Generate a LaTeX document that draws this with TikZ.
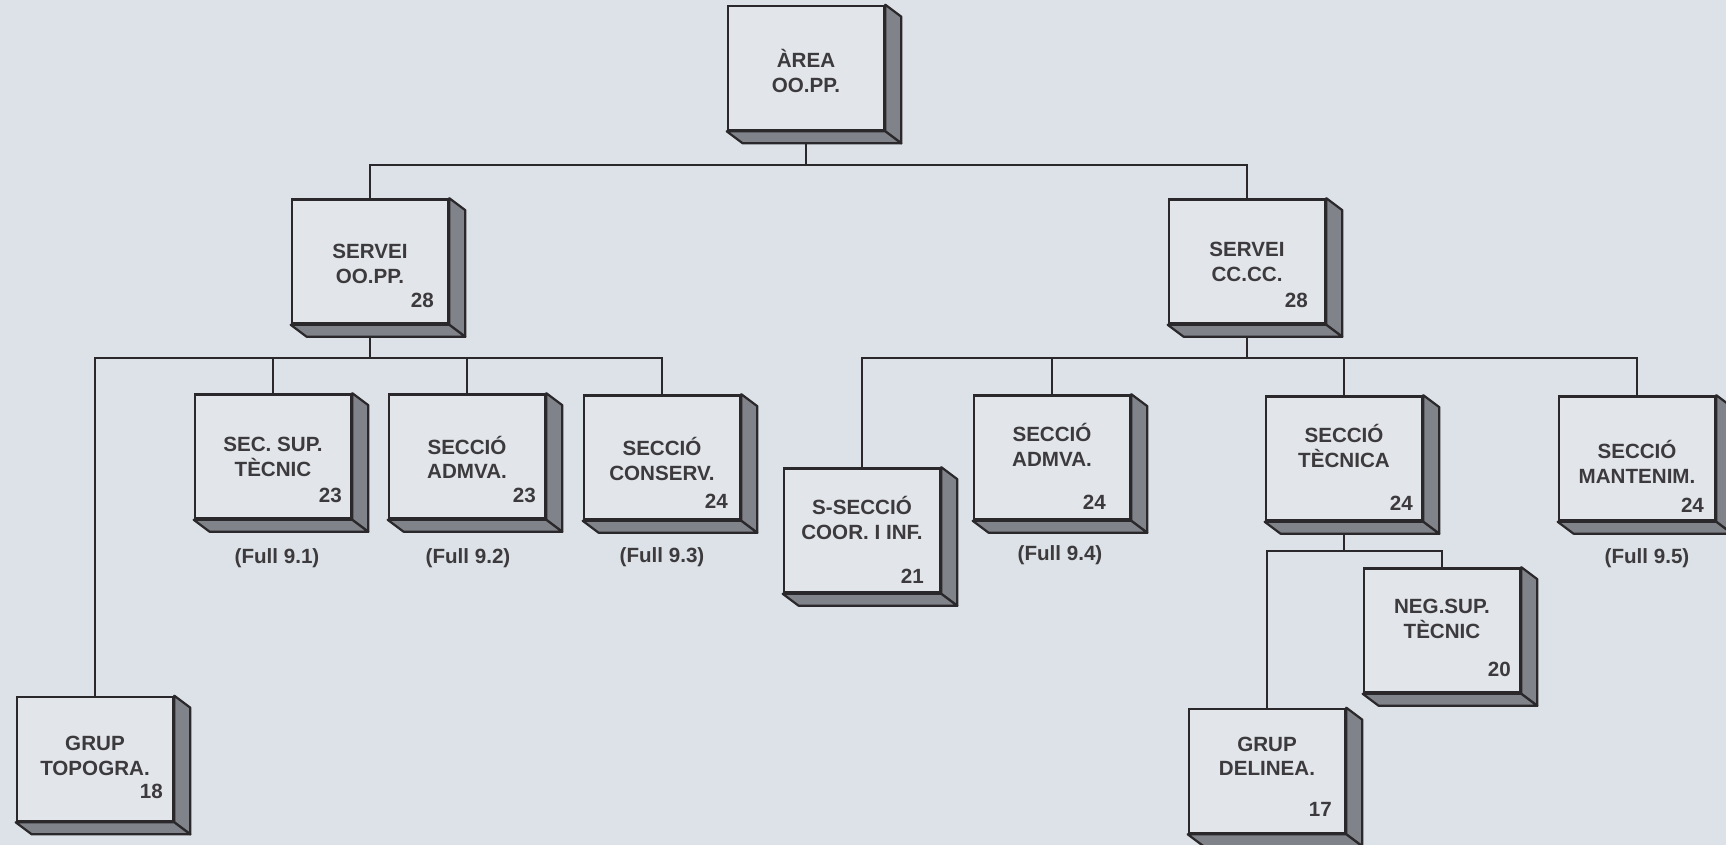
\documentclass[tikz,border=0pt]{standalone}
\usepackage{fontspec}
\setmainfont{Liberation Sans}
\usetikzlibrary{calc,backgrounds}
\definecolor{bgc}{RGB}{220,226,232}
\definecolor{facec}{RGB}{226,230,235}
\definecolor{sidec}{RGB}{128,131,137}
\definecolor{inkc}{RGB}{42,40,42}
\definecolor{txtc}{RGB}{60,58,60}
\tikzset{
  box/.style={draw=inkc, line width=1.3pt, fill=facec, minimum width=78pt, minimum height=62pt, inner sep=0pt, line join=miter},
  side/.style={draw=inkc, line width=1.1pt, fill=sidec, line join=round},
  txt/.style={font=\fontsize{10.3}{12.3}\selectfont\bfseries, text=txtc, align=center, inner sep=0pt},
  numtxt/.style={font=\fontsize{10.3}{12}\selectfont\bfseries, text=txtc, inner sep=0pt, anchor=east},
  conn/.style={draw=inkc, line width=1pt}
}
\newcommand\obox[9]{%
  \node[box] (#1) at (#2,#3) {};
  \filldraw[side] (#1.north east) -- ++(8pt,-6pt) -- ([shift={(8pt,-6pt)}]#1.south east) -- (#1.south east) -- cycle;
  \filldraw[side] (#1.south west) -- (#1.south east) -- ([shift={(8pt,-6pt)}]#1.south east) -- ([shift={(8pt,-6pt)}]#1.south west) -- cycle;
  \node[txt] (#1-t) at ($(#1.north)+(0,#7)$) {#4\\#5};
  \node[numtxt] (#1-n) at ($(#1.north east)+(-#9,#8)$) {#6};
}
\begin{document}
\begin{tikzpicture}[x=0.5pt,y=-0.5pt]
\useasboundingbox (0,0) rectangle (1726,845);
\begin{pgfonlayer}{background}
\fill[bgc] (0,0) rectangle (1726,845);
\end{pgfonlayer}

\obox{area}{806}{68}{ÀREA}{OO.PP.}{}{66}{100}{12}
\obox{soo}{370}{261.5}{SERVEI}{OO.PP.}{28}{65.5}{102}{15}
\obox{scc}{1247}{261.5}{SERVEI}{CC.CC.}{28}{63.5}{102}{18}
\obox{ssup}{273}{456.5}{SEC. SUP.}{TÈCNIC}{23}{64}{102}{10}
\obox{sadma}{467}{456.5}{SECCIÓ}{ADMVA.}{23}{64}{102}{10}
\obox{scons}{662}{457.5}{SECCIÓ}{CONSERV.}{24}{64.5}{107}{13}
\obox{ssec}{862}{530.5}{S-SECCIÓ}{COOR. I INF.}{21}{50.5}{109}{17}
\obox{sadmb}{1052}{457.5}{SECCIÓ}{ADMVA.}{24}{50.5}{108}{25}
\obox{stec}{1344}{458.5}{SECCIÓ}{TÈCNICA}{24}{50.5}{108}{10}
\obox{smant}{1637}{458.5}{SECCIÓ}{MANTENIM.}{24}{66.5}{110}{12}
\obox{sneg}{1442}{630.5}{NEG.SUP.}{TÈCNIC}{20}{51.5}{102}{10}
\obox{gtop}{95}{759}{GRUP}{TOPOGRA.}{18}{60}{96}{11}
\obox{gdel}{1267}{771}{GRUP}{DELINEA.}{17}{48.5}{102}{14}

\node[txt] (f1) at (277,558) {(Full 9.1)};
\node[txt] (f2) at (468,558) {(Full 9.2)};
\node[txt] (f3) at (662,557) {(Full 9.3)};
\node[txt] (f4) at (1060,555) {(Full 9.4)};
\node[txt] (f5) at (1647,558) {(Full 9.5)};

\coordinate (b1) at (0,165);
\coordinate (b2) at (0,358);
\coordinate (b3) at (0,551);
\begin{pgfonlayer}{background}
\draw[conn] (area.south) -- (area.south |- b1) -| (soo.north);
\draw[conn] (area.south |- b1) -| (scc.north);
\draw[conn] (soo.south) -- (soo.south |- b2);
\draw[conn] (gtop.north) |- (scons.north |- b2) -- (scons.north);
\draw[conn] (ssup.north) -- (ssup.north |- b2);
\draw[conn] (sadma.north) -- (sadma.north |- b2);
\draw[conn] (scc.south) -- (scc.south |- b2);
\draw[conn] (ssec.north) |- (smant.north |- b2) -- (smant.north);
\draw[conn] (sadmb.north) -- (sadmb.north |- b2);
\draw[conn] (stec.north) -- (stec.north |- b2);
\draw[conn] (stec.south) -- (stec.south |- b3);
\draw[conn] (gdel.north) |- (sneg.north |- b3) -- (sneg.north);
\end{pgfonlayer}
\end{tikzpicture}
\end{document}
